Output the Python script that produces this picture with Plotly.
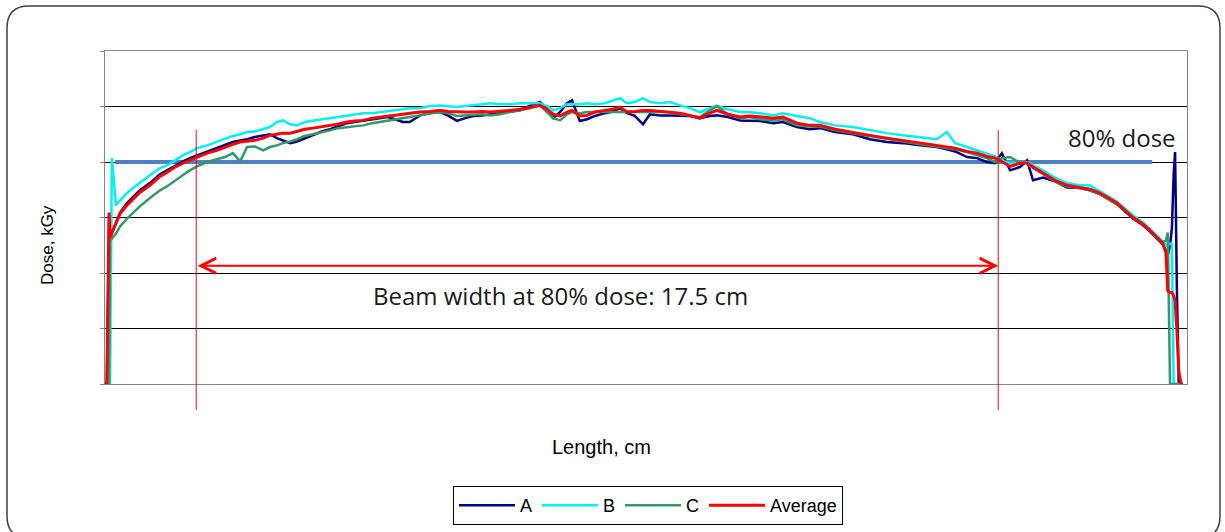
import plotly.graph_objects as go

# ---------------- data ----------------
X_CM = [
    0.00, 0.04, 0.09, 0.11, 0.15, 0.24, 0.33, 0.48, 0.61, 0.76,
    0.98, 1.20, 1.35, 1.53, 1.70, 1.85, 2.01, 2.23, 2.44, 2.62,
    2.79, 2.95, 3.10, 3.27, 3.45, 3.60, 3.75, 3.88, 4.04, 4.19,
    4.36, 4.54, 4.73, 4.91, 5.08, 5.28, 5.45, 5.63, 5.83, 6.00,
    6.17, 6.33, 6.50, 6.65, 6.87, 7.09, 7.31, 7.48, 7.68, 7.86,
    8.03, 8.23, 8.40, 8.62, 8.84, 9.06, 9.27, 9.49, 9.64, 9.78,
    9.93, 10.08, 10.19, 10.36, 10.52, 10.69, 10.91, 11.08, 11.24, 11.39,
    11.56, 11.74, 11.89, 12.11, 12.33, 12.55, 12.76, 12.98, 13.20, 13.35,
    13.59, 13.86, 14.07, 14.29, 14.58, 14.79, 15.10, 15.38, 15.60, 15.93,
    16.32, 16.69, 17.06, 17.41, 17.78, 18.15, 18.37, 18.55, 18.81, 19.03,
    19.24, 19.42, 19.57, 19.75, 19.97, 20.12, 20.25, 20.47, 20.73, 20.99,
    21.27, 21.49, 21.71, 22.08, 22.43, 22.65, 22.80, 22.95, 23.08, 23.15,
    23.19, 23.24, 23.28, 23.32, 23.35, 23.39, 23.43, 23.48, 23.52,
]

DOSE_A = [
    0, 0, 3.04, 2.62, 2.71, 2.91, 3.09, 3.26, 3.36, 3.49,
    3.62, 3.78, 3.85, 3.94, 4.01, 4.07, 4.12, 4.19, 4.25, 4.30,
    4.36, 4.39, 4.41, 4.45, 4.47, 4.50, 4.43, 4.39, 4.34, 4.37,
    4.43, 4.48, 4.55, 4.59, 4.64, 4.70, 4.72, 4.74, 4.77, 4.79,
    4.81, 4.77, 4.72, 4.72, 4.84, 4.88, 4.90, 4.84, 4.74, 4.79,
    4.83, 4.84, 4.86, 4.88, 4.90, 4.93, 5.01, 5.08, 4.97, 4.79,
    4.90, 5.06, 5.11, 4.74, 4.77, 4.83, 4.88, 4.91, 4.97, 4.88,
    4.83, 4.68, 4.86, 4.84, 4.84, 4.83, 4.83, 4.79, 4.83, 4.84,
    4.81, 4.75, 4.75, 4.74, 4.70, 4.72, 4.63, 4.59, 4.61, 4.54,
    4.50, 4.41, 4.36, 4.34, 4.30, 4.27, 4.23, 4.19, 4.09, 4.07,
    4.00, 3.98, 4.16, 3.85, 3.91, 4.03, 3.67, 3.72, 3.65, 3.54,
    3.53, 3.49, 3.42, 3.24, 2.98, 2.86, 2.75, 2.62, 2.52, 2.41,
    2.32, 2.50, 2.80, 3.80, 4.18, 1.68, 0, 0, 0,
]

DOSE_B = [
    0, 0, 0, 0, 4.07, 3.22, 3.31, 3.44, 3.53, 3.63,
    3.76, 3.89, 3.94, 4.03, 4.12, 4.18, 4.25, 4.30, 4.36, 4.41,
    4.47, 4.50, 4.54, 4.55, 4.59, 4.63, 4.72, 4.75, 4.68, 4.66,
    4.72, 4.75, 4.77, 4.79, 4.81, 4.84, 4.86, 4.88, 4.88, 4.90,
    4.91, 4.93, 4.95, 4.97, 4.97, 5.01, 5.02, 5.01, 4.99, 5.01,
    5.02, 5.04, 5.06, 5.04, 5.04, 5.06, 5.06, 5.06, 5.01, 4.93,
    4.97, 5.04, 5.04, 5.04, 5.06, 5.04, 5.06, 5.10, 5.15, 5.06,
    5.08, 5.15, 5.08, 5.06, 5.08, 5.02, 4.97, 4.90, 4.97, 5.01,
    4.95, 4.90, 4.90, 4.88, 4.84, 4.88, 4.83, 4.79, 4.72, 4.66,
    4.63, 4.57, 4.52, 4.48, 4.45, 4.41, 4.54, 4.34, 4.27, 4.21,
    4.16, 4.10, 4.03, 3.98, 4.00, 4.00, 3.94, 3.85, 3.72, 3.62,
    3.58, 3.58, 3.47, 3.29, 3.04, 2.91, 2.80, 2.68, 2.57, 2.50,
    2.50, 2.53, 2.53, 0, 0, 0, 0, 0, 0,
]

DOSE_C = [
    0, 0, 0, 2.59, 2.62, 2.71, 2.84, 2.98, 3.09, 3.20,
    3.35, 3.49, 3.56, 3.67, 3.76, 3.85, 3.92, 4.00, 4.05, 4.09,
    4.16, 4.01, 4.27, 4.28, 4.21, 4.27, 4.30, 4.34, 4.37, 4.41,
    4.47, 4.50, 4.54, 4.57, 4.61, 4.63, 4.64, 4.66, 4.70, 4.72,
    4.74, 4.77, 4.79, 4.81, 4.84, 4.88, 4.90, 4.88, 4.83, 4.84,
    4.86, 4.86, 4.84, 4.86, 4.90, 4.93, 4.97, 5.02, 4.91, 4.79,
    4.75, 4.86, 4.90, 4.88, 4.90, 4.90, 4.90, 4.91, 4.91, 4.90,
    4.91, 4.91, 4.91, 4.91, 4.90, 4.86, 4.83, 4.81, 4.93, 5.01,
    4.86, 4.79, 4.81, 4.77, 4.75, 4.77, 4.66, 4.64, 4.64, 4.57,
    4.52, 4.47, 4.41, 4.37, 4.32, 4.28, 4.25, 4.23, 4.18, 4.12,
    4.07, 4.00, 4.07, 4.09, 3.98, 3.98, 3.89, 3.78, 3.65, 3.56,
    3.53, 3.49, 3.42, 3.24, 3.00, 2.88, 2.77, 2.66, 2.55, 2.59,
    2.73, 0, 0, 0, 0, 0, 0, 0, 0,
]

DOSE_AVG = [
    0, 0, 3.09, 2.64, 2.73, 2.91, 3.07, 3.22, 3.33, 3.45,
    3.58, 3.74, 3.81, 3.91, 3.98, 4.03, 4.09, 4.16, 4.21, 4.27,
    4.32, 4.36, 4.37, 4.39, 4.43, 4.48, 4.50, 4.52, 4.52, 4.55,
    4.59, 4.61, 4.64, 4.66, 4.68, 4.72, 4.74, 4.75, 4.79, 4.81,
    4.83, 4.84, 4.86, 4.88, 4.90, 4.91, 4.93, 4.91, 4.90, 4.90,
    4.90, 4.91, 4.90, 4.91, 4.93, 4.95, 4.99, 5.02, 4.95, 4.86,
    4.83, 4.90, 4.93, 4.83, 4.84, 4.90, 4.93, 4.95, 4.99, 4.90,
    4.91, 4.93, 4.93, 4.91, 4.90, 4.88, 4.84, 4.79, 4.88, 4.93,
    4.86, 4.81, 4.83, 4.81, 4.79, 4.81, 4.70, 4.66, 4.66, 4.59,
    4.54, 4.48, 4.43, 4.39, 4.34, 4.30, 4.27, 4.25, 4.19, 4.16,
    4.10, 4.07, 4.01, 3.92, 3.98, 3.98, 3.91, 3.80, 3.67, 3.58,
    3.54, 3.51, 3.44, 3.26, 3.00, 2.88, 2.77, 2.64, 2.53, 2.37,
    1.68, 1.65, 1.65, 1.59, 1.50, 0.96, 0.24, 0, 0,
]

SERIES_NAMES = ["A", "B", "C", "Average"]
DOSE_80 = 4.0                      # 80 % dose level
LINE80_X = [0.22, 22.85]           # extent of the 80 % dose line (cm)
BEAM_EDGES = [1.99, 19.49]         # beam edges at 80 % dose (cm)
ARROW_DOSE = 2.13
BEAM_LABEL = "Beam width at 80% dose: 17.5 cm"
BEAM_LABEL_POS = (9.95, 1.60)
DOSE80_LABEL = "80% dose"
DOSE80_LABEL_POS = (23.41, 4.45)
X_RANGE = [0, 23.61]
Y_RANGE = [0, 6]

for s in (DOSE_A, DOSE_B, DOSE_C, DOSE_AVG):
    assert len(s) == len(X_CM)

# ---------------- layout geometry ----------------
W, H = 1225, 532
ML, MR, MT, MB = 105, 38, 51, 148
PW = W - ML - MR
PH = H - MT - MB


def paper(xpx, ypx):
    return (xpx - ML) / PW, (H - MB - ypx) / PH


COLORS = ["#000080", "#00F0F8", "#339966", "#FF0000"]
WIDTHS = [2.5, 2.5, 2.5, 3]
SERIES = [DOSE_A, DOSE_B, DOSE_C, DOSE_AVG]

fig = go.Figure()
for name, ys, col, w in zip(SERIES_NAMES, SERIES, COLORS, WIDTHS):
    fig.add_trace(go.Scatter(x=X_CM, y=ys, mode="lines", name=name,
                             line=dict(color=col, width=w)))

# rounded outer frame (pixel geometry -> paper coordinates)
L, R, T, B, r = 7, 1220, 6, 538, 22
pts = {
    "a": paper(L + r, T), "b": paper(R - r, T), "c": paper(R, T), "d": paper(R, T + r),
    "e": paper(R, B - r), "f": paper(R, B), "g": paper(R - r, B), "h": paper(L + r, B),
    "i": paper(L, B), "j": paper(L, B - r), "k": paper(L, T + r), "l": paper(L, T),
}
fmt = lambda p: f"{p[0]:.5f},{p[1]:.5f}"
frame_path = (f"M{fmt(pts['a'])} L{fmt(pts['b'])} Q{fmt(pts['c'])} {fmt(pts['d'])} "
              f"L{fmt(pts['e'])} Q{fmt(pts['f'])} {fmt(pts['g'])} L{fmt(pts['h'])} "
              f"Q{fmt(pts['i'])} {fmt(pts['j'])} L{fmt(pts['k'])} Q{fmt(pts['l'])} {fmt(pts['a'])} Z")

shapes = [
    dict(type="path", path=frame_path, xref="paper", yref="paper",
         line=dict(color="#404040", width=1.5)),
    dict(type="line", xref="x", yref="y", x0=LINE80_X[0], x1=LINE80_X[1],
         y0=DOSE_80, y1=DOSE_80, line=dict(color="#4F81BD", width=4), layer="between"),
]
_, vtop = paper(0, 130)
_, vbot = paper(0, 410)
for xe in BEAM_EDGES:
    shapes.append(dict(type="line", xref="x", yref="paper", x0=xe, x1=xe,
                       y0=vbot, y1=vtop, line=dict(color="#FF0000", width=1),
                       layer="above"))

tx, ty = paper(47, 245)
lx, ly = paper(601, 447)
annotations = [
    dict(x=BEAM_EDGES[1], y=ARROW_DOSE, ax=BEAM_EDGES[0], ay=ARROW_DOSE,
         xref="x", yref="y", axref="x", ayref="y", text="", showarrow=True,
         arrowhead=5, startarrowhead=5, arrowside="end+start",
         arrowsize=1.5, startarrowsize=1.5, arrowwidth=2, arrowcolor="#FF0000",
         standoff=0, startstandoff=0),
    dict(x=BEAM_LABEL_POS[0], y=BEAM_LABEL_POS[1], xref="x", yref="y",
         text=BEAM_LABEL, showarrow=False, xanchor="center", yanchor="middle",
         font=dict(family="Open Sans", size=24, color="#1a1a1a")),
    dict(x=DOSE80_LABEL_POS[0], y=DOSE80_LABEL_POS[1], xref="x", yref="y",
         text=DOSE80_LABEL, showarrow=False, xanchor="right", yanchor="middle",
         font=dict(family="Open Sans", size=24, color="#1a1a1a")),
    dict(x=tx, y=ty, xref="paper", yref="paper", text="Dose, kGy", textangle=-90,
         showarrow=False, xanchor="center", yanchor="middle",
         font=dict(family="Liberation Sans", size=17, color="#000000")),
    dict(x=lx, y=ly, xref="paper", yref="paper", text="Length, cm",
         showarrow=False, xanchor="center", yanchor="middle",
         font=dict(family="Liberation Sans", size=20, color="#000000")),
]

_, leg_mid = paper(0, 505.5)
leg_cx, _ = paper(648, 0)

fig.update_layout(
    width=W, height=H,
    margin=dict(l=ML, r=MR, t=MT, b=MB, autoexpand=False),
    paper_bgcolor="white", plot_bgcolor="white",
    showlegend=True,
    legend=dict(orientation="h", x=leg_cx, xanchor="center", y=leg_mid, yanchor="middle",
                bordercolor="#000000", borderwidth=1, bgcolor="white",
                font=dict(family="Liberation Sans", size=18, color="#000000"),
                itemwidth=56, traceorder="normal"),
    xaxis=dict(range=X_RANGE, showgrid=False, zeroline=False, showticklabels=False,
               showline=True, mirror=True, linecolor="#868686", linewidth=1, ticks=""),
    yaxis=dict(range=Y_RANGE, dtick=1, showgrid=True, gridcolor="#000000", gridwidth=1,
               zeroline=False, showticklabels=False, ticks="outside", ticklen=4,
               tickcolor="#868686", showline=True, mirror=True, linecolor="#868686",
               linewidth=1),
    shapes=shapes,
    annotations=annotations,
    hovermode=False,
)

fig.write_html(
    "out.html",
    config={"displayModeBar": False},
    post_script="document.body.style.margin='0';document.body.style.overflow='hidden';",
)
